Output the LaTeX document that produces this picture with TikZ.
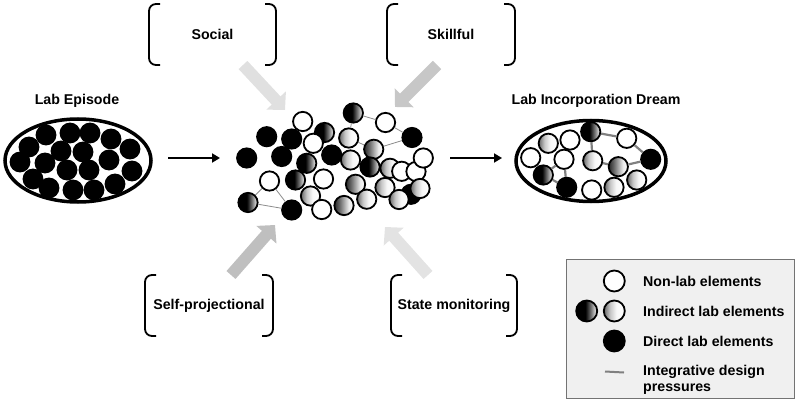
\documentclass[tikz,border=0pt]{standalone}
\usepackage{fontspec}
\setmainfont{Liberation Sans}
\usetikzlibrary{arrows.meta,shapes.geometric}
\pgfdeclarehorizontalshading{darkshade}{100bp}{color(0bp)=(black); color(25bp)=(black); color(47bp)=(black); color(60bp)=(black!55); color(75bp)=(white); color(100bp)=(white)}
\pgfdeclarehorizontalshading{medshade}{100bp}{color(0bp)=(black!85); color(25bp)=(black!85); color(38bp)=(black!60); color(62bp)=(black!8); color(75bp)=(white); color(100bp)=(white)}
\pgfdeclarehorizontalshading{lightshade}{100bp}{color(0bp)=(black!60); color(25bp)=(black!60); color(40bp)=(black!22); color(55bp)=(black!3); color(75bp)=(white); color(100bp)=(white)}
\begin{document}
\begin{tikzpicture}[x=1pt,y=-1pt,
  txt/.style={font=\fontsize{14.2}{16}\selectfont\bfseries, inner sep=0pt},
  wc/.style={circle, draw=black, line width=1.8pt, minimum size=19.3pt, inner sep=0pt, fill=white},
  bc/.style={wc, fill=black},
  dc/.style={wc, shading=darkshade},
  mc/.style={wc, shading=medshade},
  lc/.style={wc, shading=lightshade},
  thin link/.style={draw=black!45, line width=0.8pt},
  thick link/.style={draw=black!50, line width=2.2pt},
  brk/.style={line width=1.8pt, rounded corners=7pt},
  bigarrow/.style={line width=12pt, -{Triangle[length=13pt,width=26pt]}},
  blackarrow/.style={line width=1.8pt, -{Triangle[length=8pt,width=9pt]}},
  oval/.style={ellipse, draw, line width=3.5pt, inner sep=0pt}
]
\useasboundingbox (0,0) rectangle (800,401);

% ---------- titles ----------
\node[txt] (t1) at (77,101) {Lab Episode};
\node[txt] (t2) at (596,101) {Lab Incorporation Dream};

% ---------- left ellipse ----------
\node[oval, minimum width=146pt, minimum height=83pt] (le) at (78,160.5) {};
\foreach \x/\y [count=\i] in {29/147,46/135,70/133,90/133,111/139,130/149,20/162,45/163,61/151,83/152,109/160,132/171,67/170,89/170,33/179,49/188,73/190,94/190,115/184}
  \node[bc, minimum size=19pt] (e\i) at (\x,\y) {};

% ---------- right ellipse ----------
\node[oval, minimum width=150pt, minimum height=81pt] (re) at (591,161) {};
\node[wc] (r1) at (530.7,157.7) {};
\node[lc] (r2) at (548.3,143.3) {};
\node[wc] (r3) at (570,140) {};
\node[wc] (r4) at (564,159.3) {};
\node[dc] (r5) at (590.7,131.7) {};
\node[wc] (r6) at (626.7,138.3) {};
\node[lc] (r7) at (592.7,160.7) {};
\node[mc] (r8) at (618.3,166.7) {};
\node[bc] (r9) at (650.7,159.3) {};
\node[dc] (r10) at (543.3,175) {};
\node[bc] (r11) at (566.7,187.3) {};
\node[wc] (r12) at (591.7,190) {};
\node[lc] (r13) at (614,187.3) {};
\node[lc] (r14) at (636.7,180) {};
\draw[thick link] (r5) -- (r6);
\draw[thick link] (r6) -- (r9);
\draw[thick link] (r5) -- (r7);
\draw[thick link] (r7) -- (r8);
\draw[thick link] (r8) -- (r9);
\draw[thick link] (r10) -- (r4);
\draw[thick link] (r4) -- (r11);
\draw[thick link] (r10) -- (r11);

% ---------- central cluster ----------
\node[wc] (c1) at (302.7,121.5) {};
\node[bc] (c2) at (266.7,136.7) {};
\node[bc] (c3) at (291.7,139) {};
\node[dc] (c5) at (324.5,132.5) {};
\node[wc] (c4) at (313.3,143.3) {};
\node[bc] (c6) at (246.7,158) {};
\node[bc] (c7) at (281.7,156.5) {};
\node[bc] (c8) at (331.7,155) {};
\node[dc] (c9) at (306.7,163.3) {};
\node[wc] (c10) at (269.5,181) {};
\node[dc] (c11) at (295.5,180) {};
\node[wc] (c12) at (323.5,179) {};
\node[dc] (c13) at (248,202.5) {};
\node[bc] (c14) at (291.7,210) {};
\node[lc] (c15) at (310.5,196) {};
\node[wc] (c16) at (321.7,209.5) {};
\node[dc] (c17) at (353.3,113) {};
\node[wc] (c18) at (385.5,122.5) {};
\node[bc] (c19) at (412,137.5) {};
\node[lc] (c20) at (348.7,138) {};
\node[mc] (c21) at (373.7,149.3) {};
\node[lc] (c22) at (350.5,160) {};
\node[dc] (c23) at (370,167) {};
\node[lc] (c24) at (390,168.3) {};
\node[wc] (c25) at (401.7,171.3) {};
\node[wc] (c26) at (416,171.5) {};
\node[wc] (c27) at (423.3,158) {};
\node[mc] (c28) at (355.5,184.3) {};
\node[lc] (c29) at (385,187.5) {};
\node[bc] (c30) at (411,194.3) {};
\node[lc] (c31) at (420,188.5) {};
\node[lc] (c32) at (399,199.5) {};
\node[lc] (c33) at (366.7,199.2) {};
\node[mc] (c34) at (344,205.5) {};
\draw[thin link] (c10) -- (c13);
\draw[thin link] (c10) -- (c14);
\draw[thin link] (c13) -- (c14);
\draw[thin link] (c17) -- (c18);
\draw[thin link] (c18) -- (c19);
\draw[thin link] (c17) -- (c20);
\draw[thin link] (c20) -- (c21);
\draw[thin link] (c21) -- (c19);

% ---------- black arrows ----------
\coordinate (la1) at (168,158);
\coordinate (la2) at (220,158);
\coordinate (ra1) at (450,158);
\coordinate (ra2) at (502,158);
\draw[blackarrow] (la1) -- (la2);
\draw[blackarrow] (ra1) -- (ra2);

% ---------- bracket boxes ----------
\node[txt] (social) at (212.5,34) {Social};
\draw[brk] (160,4) -- (149,4) -- (149,65) -- (160,65);
\draw[brk] (265,4) -- (276,4) -- (276,65) -- (265,65);

\node[txt] (skill) at (451,34) {Skillful};
\draw[brk] (398,4) -- (387,4) -- (387,65) -- (398,65);
\draw[brk] (504,4) -- (515,4) -- (515,65) -- (504,65);

\node[txt] (selfp) at (209,306) {Self-projectional};
\draw[brk] (156,275) -- (145,275) -- (145,336) -- (156,336);
\draw[brk] (262,275) -- (273,275) -- (273,336) -- (262,336);

\node[txt] (state) at (454,306) {State monitoring};
\draw[brk] (402,275) -- (391,275) -- (391,336) -- (402,336);
\draw[brk] (506,275) -- (517,275) -- (517,336) -- (506,336);

% ---------- big grey arrows ----------
\coordinate (sa1) at (243,65);  \coordinate (sa2) at (285,110);
\coordinate (ka1) at (437,65);  \coordinate (ka2) at (395,107);
\coordinate (pa1) at (231,275); \coordinate (pa2) at (275,225);
\coordinate (ma1) at (428,275); \coordinate (ma2) at (385,227);
\draw[bigarrow, draw=black!12, fill=black!12] (sa1) -- (sa2);
\draw[bigarrow, draw=black!22, fill=black!22] (ka1) -- (ka2);
\draw[bigarrow, draw=black!25, fill=black!25] (pa1) -- (pa2);
\draw[bigarrow, draw=black!11, fill=black!11] (ma1) -- (ma2);

% ---------- legend ----------
\node[draw=black!55, fill=black!6, line width=1pt, minimum width=228pt, minimum height=139pt, inner sep=0pt] (legend) at (680,328.5) {};
\node[wc, minimum size=21pt] (lw) at (614.3,281) {};
\node[txt, anchor=west] (lt1) at (643,281) {Non-lab elements};
\node[dc, minimum size=21pt] (ld) at (586.7,311) {};
\node[lc, minimum size=21pt] (ll) at (614.3,311) {};
\node[txt, anchor=west] (lt2) at (643,311) {Indirect lab elements};
\node[bc, minimum size=21pt] (lb) at (614.3,341) {};
\node[txt, anchor=west] (lt3) at (643,341) {Direct lab elements};
\coordinate (lg1) at (605,371.5);
\coordinate (lg2) at (624,372.5);
\draw[thick link, line width=2pt] (lg1) -- (lg2);
\node[txt, anchor=west, align=left] (lt4) at (643,379.5) {Integrative design\\pressures};
\end{tikzpicture}
\end{document}
